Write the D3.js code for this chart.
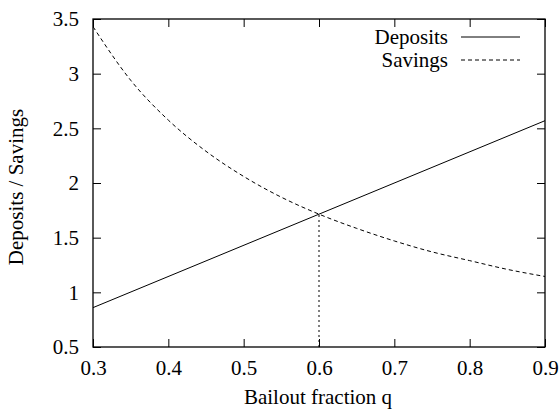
<!DOCTYPE html>
<html>
<head>
<meta charset="utf-8">
<script src="https://cdn.jsdelivr.net/npm/d3@7"></script>
<style>
  html, body { margin: 0; padding: 0; background: #fff; }
</style>
</head>
<body>
<svg id="chart" width="559" height="410"></svg>
<script>
// ---- data ----
const depositsQ = [0.3, 0.6, 0.9];
const depositsV = [0.86, 1.715, 2.57];
const savingsQ = [0.3, 0.35, 0.4, 0.45, 0.5, 0.55, 0.6, 0.65, 0.7, 0.75, 0.8, 0.85, 0.9];
const savingsV = [3.43, 2.94, 2.575, 2.29, 2.06, 1.87, 1.715, 1.585, 1.47, 1.37, 1.29, 1.21, 1.145];
const crossQ = 0.6;
const crossV = 1.715;
const xTicks = [0.3, 0.4, 0.5, 0.6, 0.7, 0.8, 0.9];
const yTicks = [0.5, 1, 1.5, 2, 2.5, 3, 3.5];
const seriesNames = ["Deposits", "Savings"];

// ---- layout ----
const FONT = "Liberation Serif";
const svg = d3.select("#chart");
const L = 93, R = 545, T = 19, B = 347;
const x = d3.scaleLinear().domain([0.3, 0.9]).range([L, R]);
const y = d3.scaleLinear().domain([0.5, 3.5]).range([B, T]);
const fs = 21, tickLen = 8;

const fmt = d => String(d);
const gx = svg.append("g").attr("transform", `translate(0,${B})`)
  .call(d3.axisBottom(x).tickValues(xTicks).tickFormat(fmt).tickSizeInner(-tickLen).tickSizeOuter(0).tickPadding(15));
const gxt = svg.append("g").attr("transform", `translate(0,${T})`)
  .call(d3.axisTop(x).tickValues(xTicks).tickFormat("").tickSizeInner(-tickLen).tickSizeOuter(0));
const gy = svg.append("g").attr("transform", `translate(${L},0)`)
  .call(d3.axisLeft(y).tickValues(yTicks).tickFormat(fmt).tickSizeInner(-tickLen).tickSizeOuter(0).tickPadding(14));
const gyr = svg.append("g").attr("transform", `translate(${R},0)`)
  .call(d3.axisRight(y).tickValues(yTicks).tickFormat("").tickSizeInner(-tickLen).tickSizeOuter(0));
[gx, gxt, gy, gyr].forEach(g => {
  g.attr("font-family", FONT).attr("font-size", fs);
  g.select(".domain").remove();
  g.selectAll("line").attr("stroke", "#000").attr("stroke-width", 1);
  g.selectAll("text").attr("font-family", FONT).attr("font-size", fs).attr("fill", "#000");
});
gx.selectAll("text").attr("dy", "0.6em");

svg.append("clipPath").attr("id", "clip").append("rect")
  .attr("x", L).attr("y", T).attr("width", R - L).attr("height", B - T);

const line = d3.line().x(d => x(d[0])).y(d => y(d[1]));
const plot = svg.append("g").attr("clip-path", "url(#clip)");

plot.append("path").datum(depositsQ.map((q, i) => [q, depositsV[i]]))
  .attr("d", line).attr("fill", "none").attr("stroke", "#000").attr("stroke-width", 1);
plot.append("path").datum(savingsQ.map((q, i) => [q, savingsV[i]]))
  .attr("d", d3.line().curve(d3.curveMonotoneX).x(d => x(d[0])).y(d => y(d[1])))
  .attr("fill", "none").attr("stroke", "#000").attr("stroke-width", 1).attr("stroke-dasharray", "4,3");
plot.append("line")
  .attr("x1", x(crossQ)).attr("x2", x(crossQ)).attr("y1", y(0.5)).attr("y2", y(crossV))
  .attr("stroke", "#000").attr("stroke-width", 1).attr("stroke-dasharray", "2,3");

svg.append("rect").attr("x", L).attr("y", T).attr("width", R - L).attr("height", B - T)
  .attr("fill", "none").attr("stroke", "#000").attr("stroke-width", 1.3);

const legY = [37, 60];
const dashes = [null, "4,3"];
seriesNames.forEach((name, i) => {
  svg.append("text").attr("x", 448).attr("y", legY[i]).attr("dy", "0.35em")
    .attr("text-anchor", "end").attr("font-family", FONT).attr("font-size", fs).text(name);
  svg.append("line").attr("x1", 461).attr("x2", 520).attr("y1", legY[i]).attr("y2", legY[i])
    .attr("stroke", "#000").attr("stroke-width", 1).attr("stroke-dasharray", dashes[i]);
});

svg.append("text").attr("x", 318).attr("y", 404).attr("text-anchor", "middle")
  .attr("font-family", FONT).attr("font-size", fs).text("Bailout fraction q");
svg.append("text").attr("transform", "translate(23,187) rotate(-90)").attr("text-anchor", "middle")
  .attr("font-family", FONT).attr("font-size", fs).text("Deposits / Savings");
</script>
</body>
</html>
